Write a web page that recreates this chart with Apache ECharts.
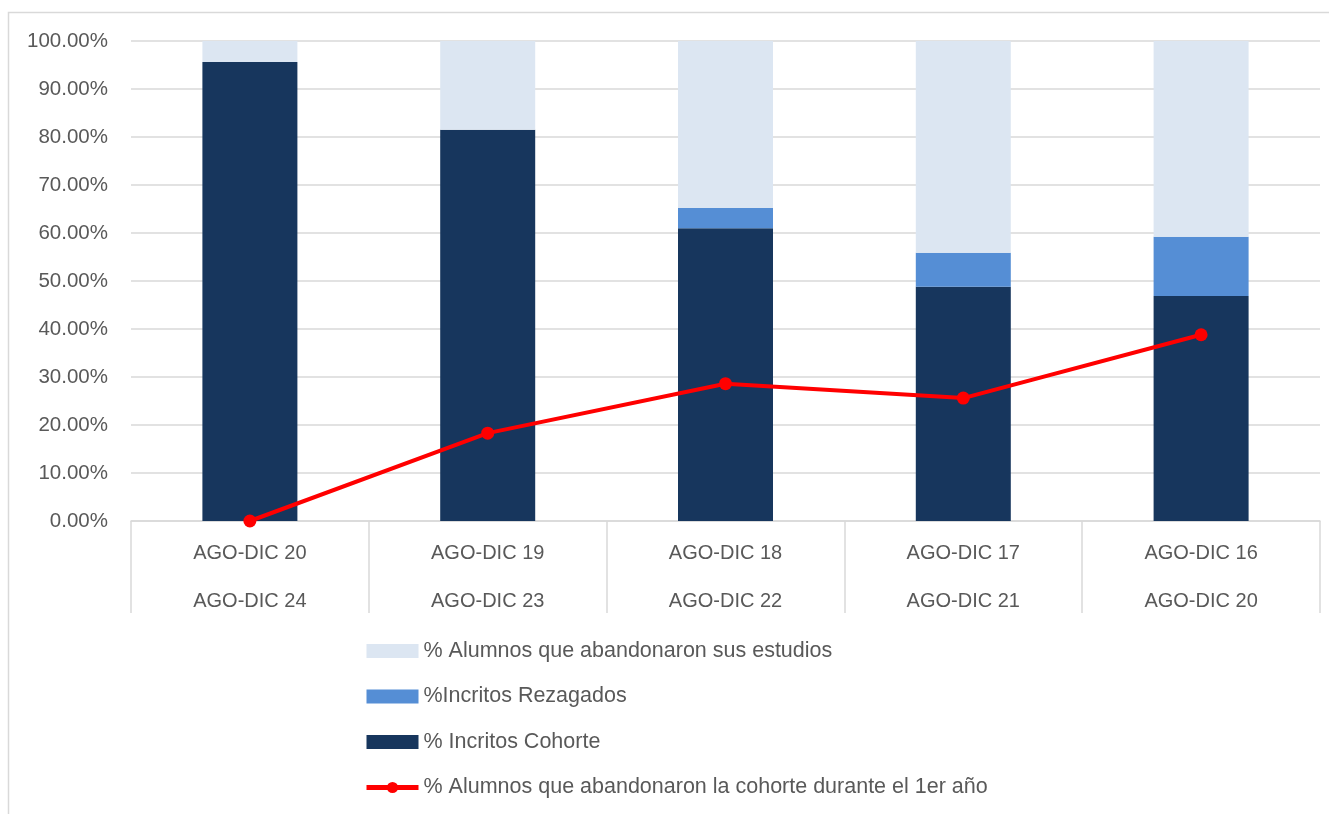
<!DOCTYPE html>
<html>
<head>
<meta charset="utf-8">
<script src="https://cdn.jsdelivr.net/npm/echarts@6/dist/echarts.min.js"></script>
<style>
html,body{margin:0;padding:0;background:#fff;}
#chart{width:1329px;height:814px;}
</style>
</head>
<body>
<div id="chart"></div>
<script>
const categories = ["AGO-DIC 20\nAGO-DIC 24", "AGO-DIC 19\nAGO-DIC 23", "AGO-DIC 18\nAGO-DIC 22", "AGO-DIC 17\nAGO-DIC 21", "AGO-DIC 16\nAGO-DIC 20"];
const cohorte = [95.6, 81.5, 61.0, 48.8, 46.9];
const rezagados = [0, 0, 4.2, 7.1, 12.3];
const abandonaron = [4.4, 18.5, 34.8, 44.1, 40.8];
const abandonoPrimerAnio = [0, 18.3, 28.6, 25.6, 38.8];
const seriesNames = ["% Alumnos que abandonaron sus estudios", "%Incritos Rezagados", "% Incritos Cohorte", "% Alumnos que abandonaron la cohorte durante el 1er año"];

const FONT = "Liberation Sans";
const chart = echarts.init(document.getElementById('chart'));
chart.setOption({
  animation: false,
  textStyle: {fontFamily: FONT},
  graphic: [{
    type: 'rect', left: 6, top: 10, z: -10, silent: true,
    shape: {width: 1340, height: 820},
    style: {fill: 'none', stroke: '#d9d9d9', lineWidth: 1.5}
  }],
  grid: {left: 131, right: 9, top: 41, bottom: 293, containLabel: false},
  legend: {
    orient: 'vertical', left: 359, top: 635, height: 175, width: 900,
    itemWidth: 52, itemHeight: 14, itemGap: 23.5,
    textStyle: {fontSize: 21.5, lineHeight: 22, color: '#595959', fontFamily: FONT, padding: [0,0,0,0]},
    data: [
      {name: seriesNames[0], icon: 'rect'},
      {name: seriesNames[1], icon: 'rect'},
      {name: seriesNames[2], icon: 'rect'},
      {name: seriesNames[3], lineStyle: {width: 5}}
    ]
  },
  xAxis: {
    type: 'category', data: categories,
    axisLine: {show: true, lineStyle: {color: '#d9d9d9', width: 1.5}},
    axisTick: {show: true, length: 92, lineStyle: {color: '#d9d9d9', width: 1.5}},
    axisLabel: {fontSize: 20, color: '#595959', lineHeight: 48, margin: 8, fontFamily: FONT}
  },
  yAxis: {
    type: 'value', min: 0, max: 100, interval: 10,
    axisLine: {show: false}, axisTick: {show: false},
    splitLine: {lineStyle: {color: '#d9d9d9', width: 1.5}},
    axisLabel: {fontSize: 20.5, color: '#595959', margin: 23, fontFamily: FONT,
      formatter: v => v.toFixed(2) + '%'}
  },
  series: [
    {name: seriesNames[2], type: 'bar', stack: 's', data: cohorte, barWidth: 95,
      itemStyle: {color: '#17365D'}},
    {name: seriesNames[1], type: 'bar', stack: 's', data: rezagados, barWidth: 95,
      itemStyle: {color: '#558ED5'}},
    {name: seriesNames[0], type: 'bar', stack: 's', data: abandonaron, barWidth: 95,
      itemStyle: {color: '#DCE6F2'}},
    {name: seriesNames[3], type: 'line', data: abandonoPrimerAnio,
      symbol: 'circle', symbolSize: 13,
      lineStyle: {color: '#FF0000', width: 4},
      itemStyle: {color: '#FF0000'}, z: 5}
  ]
});
</script>
</body>
</html>
